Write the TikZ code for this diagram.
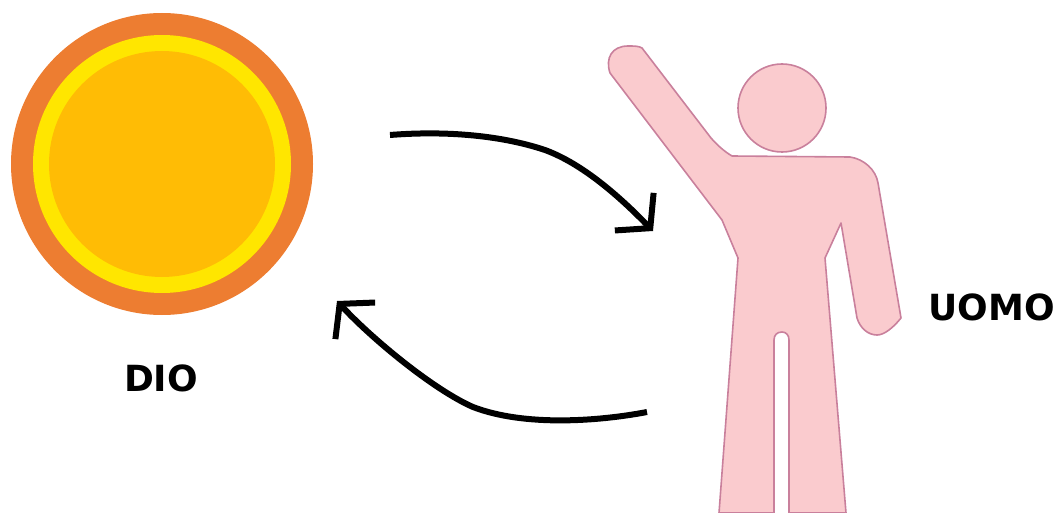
\documentclass[tikz,border=0pt]{standalone}
\usepackage{fontspec}
\setmainfont{DejaVu Sans}
\usepackage{tikz}
\usetikzlibrary{arrows.meta, positioning}
\definecolor{sunorange}{HTML}{ED7D31}
\definecolor{sunyellow}{HTML}{FFE600}
\definecolor{suncore}{HTML}{FFBC05}
\definecolor{manfill}{HTML}{FACBCE}
\definecolor{manline}{HTML}{C9809C}
\tikzset{
    sundisc/.style={circle, inner sep=0pt, minimum size=#1},
    manpart/.style={fill=manfill, draw=manline, line width=1.6pt, line join=round},
    bigarrow/.style={line width=6pt, -{Straight Barb[length=23pt, width=54pt, line width=6pt]}},
    caption/.style={font=\bfseries\fontsize{36}{36}\selectfont, inner sep=0pt}
}
\begin{document}
\begin{tikzpicture}[x=1pt, y=-1pt]
    \useasboundingbox (0,0) rectangle (1056,513);

    \node[sundisc=302pt, fill=sunorange] (sunouter) at (162,164) {};
    \node[sundisc=258pt, fill=sunyellow] (sunring) at (162,164) {};
    \node[sundisc=226pt, fill=suncore] (suncenter) at (162,164) {};
    \node[caption] (dio) at (161,378) {DIO};

    \draw[manpart] (610,73) .. controls (605,58) and (612,46) .. (628,46)
        .. controls (634,46) and (639,46) .. (642,48) -- (711,138)
        .. controls (717,145) and (725,152) .. (732,156) -- (850,157)
        .. controls (864,159) and (876,170) .. (878,183) -- (901,318)
        .. controls (893,328) and (884,335) .. (877,335)
        .. controls (868,335) and (860,328) .. (857,318) -- (841,223) -- (825,258)
        -- (846,513) -- (789,513) -- (789,340)
        .. controls (789,335) and (786,332) .. (782,332)
        .. controls (777,332) and (774,335) .. (774,340) -- (774,513) -- (719,513)
        -- (738,258) -- (722,220) -- cycle;
    \node[circle, manpart, inner sep=0pt, minimum size=88pt] (head) at (782,108) {};
    \node[caption] (uomo) at (991.5,307) {UOMO};

    \coordinate (downstart) at (390,135);
    \coordinate (downend) at (653,231);
    \coordinate (upstart) at (647,412);
    \coordinate (upend) at (337,301);

    \draw[bigarrow] (downstart) .. controls (440,131) and (497,134) .. (545,150)
        .. controls (583,164) and (620,197) .. (downend);
    \draw[bigarrow] (upstart) .. controls (600,421) and (525,427) .. (473,407)
        .. controls (434,390) and (372,339) .. (upend);
\end{tikzpicture}
\end{document}
